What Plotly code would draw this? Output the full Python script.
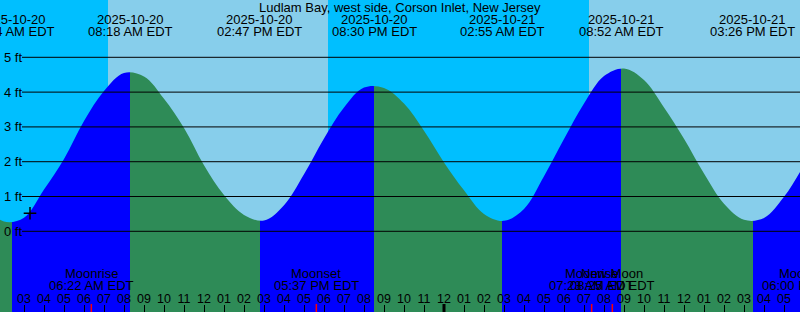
import plotly.graph_objects as go
from datetime import datetime

# ---------------- data ----------------
TITLE = "Ludlam Bay, west side, Corson Inlet, New Jersey"

# high / low tide events
tide_times = ["2025-10-20 02:24", "2025-10-20 08:18", "2025-10-20 14:47",
              "2025-10-20 20:30", "2025-10-21 02:55", "2025-10-21 08:52",
              "2025-10-21 15:26"]
tide_heights = [0.25, 4.58, 0.30, 4.18, 0.29, 4.69, 0.29]

# hourly tide heights (ft); hour 0 = 2025-10-20 00:00 EDT
curve_hours = list(range(1, 44))
curve_ft = [0.75, 0.28, 0.39, 1.20, 2.08, 3.17, 4.03, 4.55, 4.45, 3.81,
            2.97, 1.90, 1.04, 0.47, 0.31, 0.75, 1.64, 2.67, 3.56, 4.13,
            4.12, 3.67, 2.89, 1.98, 1.18, 0.50, 0.30, 0.64, 1.58, 2.65,
            3.67, 4.46, 4.68, 4.35, 3.56, 2.66, 1.66, 0.79, 0.33, 0.38,
            0.99, 1.90, 2.90]

# daylight (sunrise -> sunset)
day_starts = ["2025-10-20 07:12", "2025-10-21 07:15"]
day_ends = ["2025-10-20 18:12", "2025-10-21 18:11"]

# moon events
moon_names = ["Moonrise", "Moonset", "Moonrise", "New Moon", "Moonset"]
moon_times = ["2025-10-20 06:22", "2025-10-20 17:37", "2025-10-21 07:23",
              "2025-10-21 08:25", "2025-10-21 18:00"]

# current-time marker
now_time = "2025-10-20 03:18"
now_ft = 0.52

# axis ticks
hour_ticks = list(range(2, 42))
hour_labels = ["%02d" % ((h % 12) or 12) for h in hour_ticks]
ft_levels = [0, 1, 2, 3, 4, 5]
ft_labels = ["%d ft" % v for v in ft_levels]

# ---------------- style ----------------
NIGHT = "#00BFFF"
DAY = "#87CEEB"
RISE = "#0000FF"
FALL = "#2E8B57"
FONT = "Liberation Sans, Arial, sans-serif"
FS = 13
W, H = 800, 312
X_RANGE = [1.8, 41.8]
Y_RANGE = [-2.319, 6.647]

T0 = datetime(2025, 10, 20, 0, 0)


def hrs(s):
    d = datetime.strptime(s, "%Y-%m-%d %H:%M")
    return (d - T0).total_seconds() / 3600.0


def label_time(s):
    return datetime.strptime(s, "%Y-%m-%d %H:%M").strftime("%I:%M %p EDT")


def xpos(t):
    if X_RANGE[0] <= t <= X_RANGE[1]:
        return dict(x=t, xref="x")
    return dict(x=(t - X_RANGE[0]) / (X_RANGE[1] - X_RANGE[0]), xref="paper")


def ypix(py):
    return 1 - py / H


fig = go.Figure()

# fill colours: rising (blue) between low->high, falling (green) high->low
x0, x1 = curve_hours[0], curve_hours[-1]
prev = FALL if tide_heights[0] < tide_heights[1] else RISE
cs = [[0, prev]]
for s in tide_times:
    f = (hrs(s) - x0) / (x1 - x0)
    nxt = RISE if prev == FALL else FALL
    cs += [[f, prev], [f, nxt]]
    prev = nxt
cs.append([1, prev])

fig.add_trace(go.Scatter(x=[x0, x1], y=[Y_RANGE[0] - 1] * 2, mode="lines",
                         line=dict(width=0), hoverinfo="skip", showlegend=False))
fig.add_trace(go.Scatter(x=curve_hours, y=curve_ft, mode="lines",
                         line=dict(width=0, shape="spline", smoothing=1),
                         fill="tonexty",
                         fillgradient=dict(type="horizontal", colorscale=cs,
                                           start=x0, stop=x1),
                         hoverinfo="skip", showlegend=False))
fig.add_trace(go.Scatter(x=[hrs(now_time)], y=[now_ft], mode="markers",
                         marker=dict(symbol="cross-thin", size=9,
                                     line=dict(width=1.5, color="black")),
                         hoverinfo="skip", showlegend=False))

shapes = []
for a, b in zip(day_starts, day_ends):
    shapes.append(dict(type="rect", xref="x", yref="paper", x0=hrs(a), x1=hrs(b),
                       y0=0, y1=1, fillcolor=DAY, line=dict(width=0), layer="below"))
for v in ft_levels:
    shapes.append(dict(type="line", xref="paper", yref="y", x0=22 / W, x1=1,
                       y0=v, y1=v, line=dict(color="black", width=1), layer="above"))
for h in hour_ticks:
    if h % 24 == 0:
        shapes.append(dict(type="line", xref="x", yref="paper", x0=h, x1=h,
                           y0=0, y1=8 / H, line=dict(color="black", width=3),
                           layer="above"))
for s in moon_times:
    t = hrs(s)
    if X_RANGE[0] <= t <= X_RANGE[1]:
        shapes.append(dict(type="line", xref="x", yref="paper", x0=t, x1=t,
                           y0=0, y1=8 / H, line=dict(color="red", width=1.5),
                           layer="above"))

ann = []
tf = dict(family=FONT, size=FS, color="black")
ann.append(dict(text=TITLE, xref="paper", x=0.5, yref="paper", y=ypix(7),
                showarrow=False, xanchor="center", yanchor="middle", font=tf))
for s in tide_times:
    t = hrs(s)
    ann.append(dict(text=s[:10], yref="paper", y=ypix(19.5), showarrow=False,
                    xanchor="center", yanchor="middle", font=tf, **xpos(t)))
    ann.append(dict(text=label_time(s), yref="paper", y=ypix(31.5), showarrow=False,
                    xanchor="center", yanchor="middle", font=tf, **xpos(t)))
for name, s in zip(moon_names, moon_times):
    t = hrs(s)
    ann.append(dict(text=name, yref="paper", y=ypix(273), showarrow=False,
                    xanchor="center", yanchor="middle", font=tf, **xpos(t)))
    ann.append(dict(text=label_time(s), yref="paper", y=ypix(285), showarrow=False,
                    xanchor="center", yanchor="middle", font=tf, **xpos(t)))

fig.update_layout(
    width=W, height=H, margin=dict(l=0, r=0, t=0, b=0, pad=0),
    paper_bgcolor=NIGHT, plot_bgcolor=NIGHT,
    showlegend=False, hovermode=False,
    shapes=shapes, annotations=ann,
    font=dict(family=FONT, size=FS, color="black"),
    xaxis=dict(range=X_RANGE, showgrid=False, zeroline=False, showline=False,
               tickmode="array", tickvals=hour_ticks, ticktext=hour_labels,
               ticks="inside", ticklen=7, tickwidth=1, tickcolor="black",
               ticklabelposition="inside", ticklabelstandoff=-1,
               tickfont=dict(family=FONT, size=12.5, color="black"), fixedrange=True),
    yaxis=dict(range=Y_RANGE, showgrid=False, zeroline=False, showline=False,
               tickmode="array", tickvals=ft_levels, ticktext=ft_labels,
               ticks="", ticklabelposition="inside", ticklabelstandoff=1,
               tickfont=dict(family=FONT, size=FS, color="black"), fixedrange=True),
)

fig.write_html("out.html")
